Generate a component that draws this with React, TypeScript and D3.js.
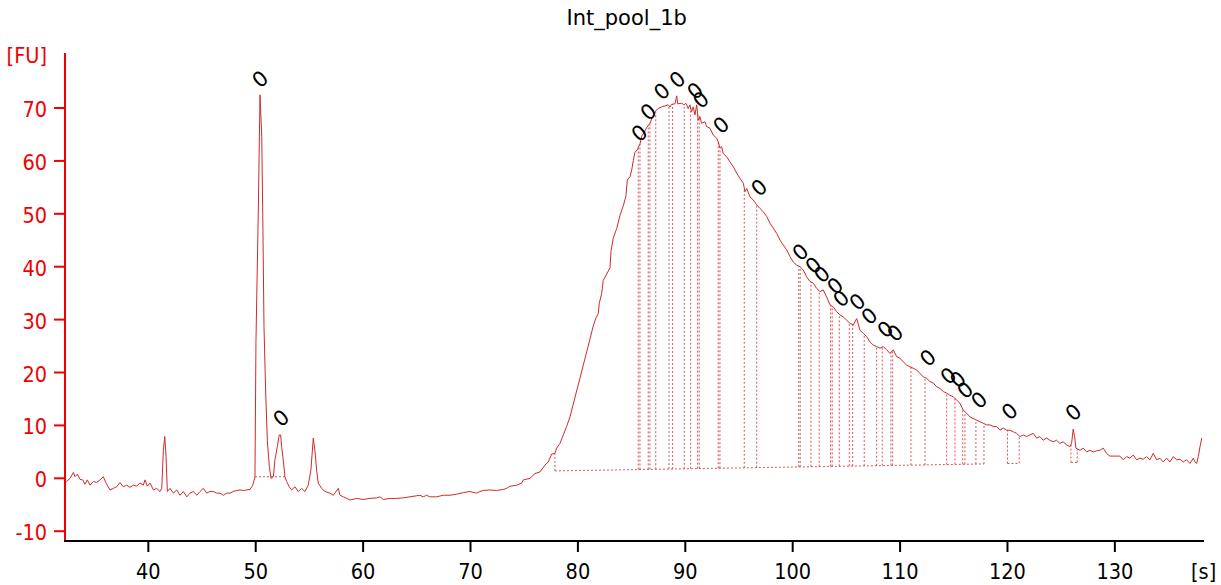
import React from 'react';
import * as d3 from 'd3';

const TITLE = 'Int_pool_1b';
const xTicks = [40, 50, 60, 70, 80, 90, 100, 110, 120, 130];
const yTicks = [-10, 0, 10, 20, 30, 40, 50, 60, 70];
const xDomain = [32.24, 138.3];
const yDomain = [-11.85, 80.4];

// electropherogram trace: [time s, FU]
const trace: [number, number][] = [
  [32.24,-0.3],[32.40,-0.6],[32.71,0.0],[33.02,1.1],[33.17,0.3],[33.39,0.8],[33.64,-0.2],[33.89,-0.3],[34.10,-1.1],[34.32,-0.3],[34.57,-1.3],[34.88,-0.6],[35.19,-0.8],[35.50,-0.3],[35.81,0.3],[36.06,-0.9],[36.43,-2.2],[36.74,-1.9],[37.05,-1.6],[37.36,-0.8],[37.67,-1.6],[37.98,-1.3],[38.29,-1.7],[38.60,-1.3],[38.91,-1.5],[39.23,-0.9],[39.53,-1.3],[39.69,-0.3],[39.91,-1.5],[40.16,-0.9],[40.47,-2.2],[40.78,-1.9],[41.09,-2.5],[41.25,-1.9],[41.40,5.3],[41.53,7.9],[41.65,4.1],[41.77,-2.5],[42.02,-1.9],[42.33,-2.8],[42.65,-2.2],[42.95,-3.2],[43.26,-2.5],[43.58,-3.5],[43.88,-2.8],[44.19,-2.5],[44.51,-3.2],[44.81,-2.5],[45.12,-1.9],[45.44,-2.8],[45.74,-2.5],[46.05,-2.5],[46.36,-2.8],[46.67,-2.8],[46.98,-3.2],[47.30,-2.8],[47.60,-2.8],[47.91,-2.5],[48.23,-2.3],[48.54,-2.2],[48.85,-2.3],[49.16,-2.2],[49.47,-2.1],[49.72,-1.3],
  [49.93,0.3],[50.02,25.6],[50.24,50.7],[50.40,72.5],[50.56,64.6],[50.65,50.7],[50.77,28.7],[50.93,16.1],[51.08,7.2],[51.27,2.2],[51.42,0.0],[51.64,0.3],[51.79,3.5],[52.01,6.0],[52.19,8.2],[52.32,8.2],[52.41,6.0],[52.56,3.5],[52.72,0.3],[52.88,-0.6],[53.12,-1.6],[53.34,-2.2],[53.65,-1.6],[53.96,-2.5],[54.27,-1.9],[54.58,-2.5],[54.89,-1.3],[55.14,1.6],[55.36,7.6],[55.51,5.3],[55.67,1.6],[55.82,-0.9],[56.13,-1.9],[56.45,-2.5],[56.91,-2.8],[57.22,-3.2],[57.69,-1.9],
  [57.85,-3.2],[58.16,-3.5],[58.47,-3.8],[58.78,-4.1],[59.40,-3.8],[60.02,-4.0],[60.64,-3.8],[61.26,-3.7],[61.57,-3.5],[61.88,-4.0],[62.50,-3.8],[63.12,-3.8],[63.74,-3.7],[64.36,-3.5],[64.98,-3.3],[65.29,-3.2],[65.60,-3.5],[65.91,-3.2],[66.22,-3.5],[66.84,-3.5],[67.46,-3.2],[68.09,-3.2],[68.71,-3.0],[69.33,-2.7],[69.95,-2.5],[70.57,-2.8],[70.88,-2.5],[71.19,-2.3],[71.81,-2.2],[72.43,-2.3],[73.05,-2.1],[73.36,-1.9],[73.67,-1.5],[74.30,-1.3],[74.76,-0.9],[74.92,-0.3],
  [75.54,0.0],[76.00,0.9],[76.47,1.2],[76.93,2.5],[77.24,3.1],[77.56,4.6],[77.86,4.7],[78.02,5.7],[78.33,6.6],[78.64,8.2],[78.95,9.8],
  [79.26,11.6],[79.57,14.0],[79.88,16.5],[80.19,18.9],[80.50,21.4],[80.82,23.9],[81.12,26.3],[81.43,28.8],[81.68,30.3],[81.90,31.2],[81.99,33.1],[82.21,34.9],[82.36,37.4],[82.68,38.6],[82.99,39.8],[83.08,42.9],[83.29,45.4],[83.61,47.2],[83.92,49.7],[84.22,51.5],[84.47,53.3],[84.60,56.4],[84.85,57.0],[85.01,58.3],[85.16,60.1],[85.31,61.6],[85.53,62.1],[85.78,63.2],[85.94,64.7],[86.15,65.3],[86.40,66.3],
  [86.71,67.1],[86.96,68.4],[87.17,69.3],[87.48,69.9],[87.80,70.2],[88.10,70.4],[88.41,70.6],[88.57,70.2],[88.73,70.7],[89.04,70.8],[89.20,72.3],[89.29,70.8],[89.66,70.9],[89.90,70.6],[90.06,70.9],[90.27,69.9],[90.43,70.6],[90.59,69.3],[90.74,70.2],[90.90,68.7],[91.06,70.6],[91.21,67.7],[91.36,68.4],[91.52,67.1],[91.83,67.4],[91.99,66.5],[92.29,66.2],[92.60,64.9],[92.92,64.3],[93.07,63.6],[93.23,62.4],[93.38,62.7],[93.53,61.4],[93.85,60.8],[94.16,59.8],[94.47,58.9],[94.78,57.7],[95.09,56.7],[95.40,55.8],[95.56,54.2],[95.72,54.8],[96.02,53.2],[96.33,52.6],[96.65,51.7],[96.96,51.0],[97.26,50.4],[97.58,49.5],[97.89,48.2],[98.19,47.3],[98.51,46.3],[98.82,45.0],[99.12,44.1],[99.44,43.2],[99.75,41.9],[100.05,40.9],[100.37,40.3],[100.68,40.0],[100.98,39.4],[101.30,38.1],
  [101.61,37.2],[101.92,36.9],[102.23,35.9],[102.54,35.3],[102.85,35.6],[103.16,34.3],[103.47,32.8],[103.78,32.4],[104.09,31.5],[104.40,30.9],[104.71,30.5],[105.02,29.9],[105.33,29.3],[105.64,29.0],[105.96,30.2],[106.26,28.0],[106.57,27.4],[106.89,26.8],[107.19,25.8],[107.50,25.2],[107.82,24.9],[108.13,24.6],[108.43,24.9],[108.75,24.3],[109.06,23.6],[109.37,24.3],[109.68,23.0],[109.99,22.7],[110.30,22.0],[110.61,21.4],[110.92,21.1],[111.23,20.8],[111.54,20.5],[111.85,19.8],[112.16,19.2],[112.48,18.9],[112.78,18.3],[113.09,18.0],[113.41,17.3],[113.71,17.0],[114.02,16.4],[114.34,16.1],[114.64,15.7],[114.95,15.4],[115.27,14.8],[115.57,14.2],[115.88,12.9],[116.20,12.3],[116.51,11.6],[116.81,11.3],[117.13,11.0],[117.44,10.7],[117.75,10.4],[118.06,10.1],[118.37,10.1],[118.68,9.8],[118.99,9.8],[119.30,9.1],[119.61,9.5],[119.92,9.1],[120.23,9.1],[120.54,8.8],[120.85,8.5],[121.16,7.9],[121.47,8.2],[121.78,7.9],[122.09,8.2],
  [122.40,8.5],[122.71,7.6],[123.02,7.9],[123.33,7.2],[123.64,7.6],[123.95,7.2],[124.26,6.9],[124.57,7.2],[124.88,6.6],[125.19,6.9],[125.51,6.3],[125.82,6.0],[125.97,6.6],[126.12,9.3],[126.25,7.9],[126.37,5.7],[126.75,5.3],[127.06,5.7],[127.37,5.0],[127.68,5.3],[127.99,5.0],[128.30,5.2],[128.61,5.3],[128.92,5.7],[129.23,4.7],[129.54,4.2],[130.00,4.2],[130.47,4.2],[130.78,3.5],[131.09,4.1],[131.40,3.8],[131.71,4.4],[132.03,3.5],[132.33,3.8],[132.64,3.6],[132.96,4.1],[133.27,3.5],[133.57,4.7],[133.89,3.5],[134.20,3.8],[134.50,3.1],[134.82,3.8],[135.13,3.1],[135.44,4.1],[135.75,3.5],[136.06,3.6],[136.37,3.1],[136.68,3.5],[136.99,2.8],[137.30,3.8],[137.46,3.1],[137.62,2.8],[137.77,4.1],[137.93,6.0],[138.09,7.6]
];

// peak labels: [time s, FU at label]
const peakLabels: [number, number][] = [
  [50.40,75.5],[52.35,11.4],[85.71,65.3],[86.55,69.3],[87.80,73.2],[89.25,75.4],[90.90,73.3],[91.43,71.6],[93.32,66.8],[96.86,55.0],[100.71,42.8],[101.91,40.3],[102.70,38.6],[103.93,36.4],[104.49,34.0],[106.01,33.4],[107.13,30.7],[108.62,28.2],[109.52,27.5],[112.57,22.8],[114.49,19.4],[115.36,18.7],[116.04,16.7],[117.34,14.8],[120.18,12.7],[126.12,12.5]
];
const peakLabelText = '0';

// peak boundaries (s)
const peakBounds = [77.86, 85.62, 85.78, 86.55, 86.71, 87.25, 88.48, 88.82, 89.90, 90.50, 91.15, 91.30, 93.07, 93.23, 95.49, 96.65, 100.57, 100.70, 101.70, 102.47, 103.53, 103.68, 104.34, 105.27, 105.58, 106.66, 107.82, 108.34, 109.15, 109.31, 111.01, 112.32, 114.34, 115.11, 115.83, 116.04, 117.06, 117.81, 120.00, 121.09, 125.91, 126.50];
const baselineT = [77.86, 126.5];
const baselineFU = [1.4, 3.0];
const baselineSegments: [number, number][] = [[77.86, 117.81], [120.0, 121.09], [125.91, 126.5]];
const markerBaseline = [49.93, 52.72, 0.3];

const FONT = "'DejaVu Sans Condensed', 'DejaVu Sans', sans-serif";
const RED = '#f00000';
const TRACE = '#d02a2a';
const DOT = '#d85555';

export default function App() {
  const W = 1221, H = 585;
  const left = 65, right = 1204, top = 53, bottom = 541;
  const x = d3.scaleLinear().domain(xDomain).range([left, right]);
  const y = d3.scaleLinear().domain(yDomain).range([bottom, top]);
  const line = d3.line<[number, number]>().x(d => x(d[0])).y(d => y(d[1]));
  const base = d3.scaleLinear().domain(baselineT).range(baselineFU);
  const bis = d3.bisector((d: [number, number]) => d[0]).left;
  const traceAt = (t: number) => {
    const i = bis(trace, t);
    if (i <= 0) return trace[0][1];
    if (i >= trace.length) return trace[trace.length - 1][1];
    const a = trace[i - 1], b = trace[i];
    return a[1] + (b[1] - a[1]) * (t - a[0]) / (b[0] - a[0]);
  };

  return (
    <svg width={W} height={H} style={{ position: 'absolute', left: 0, top: 0, background: '#fff' }}>
      <rect x={0} y={0} width={W} height={H} fill="#fff" />
      <text x={626.7} y={25} textAnchor="middle" fontFamily="'DejaVu Sans', sans-serif" fontSize={21} fill="#000">{TITLE}</text>

      {/* dotted peak boundaries */}
      <g stroke={DOT} strokeWidth={1} strokeDasharray="2 2" fill="none">
        {peakBounds.map((t, i) => (
          <line key={'b' + i} x1={x(t)} x2={x(t)} y1={y(base(t))} y2={y(traceAt(t))} />
        ))}
        {baselineSegments.map((s, i) => (
          <line key={'s' + i} x1={x(s[0])} x2={x(s[1])} y1={y(base(s[0]))} y2={y(base(s[1]))} />
        ))}
        <line x1={x(markerBaseline[0])} x2={x(markerBaseline[1])} y1={y(markerBaseline[2])} y2={y(markerBaseline[2])} />
      </g>

      <path d={line(trace) || ''} fill="none" stroke={TRACE} strokeWidth={1} />

      {/* peak labels */}
      {peakLabels.map((p, i) => (
        <text key={'l' + i} transform={`translate(${x(p[0])},${y(p[1])}) rotate(-40)`} textAnchor="middle" dy="0.36em"
          fontFamily="'DejaVu Sans', sans-serif" fontSize={21} fill="#000">{peakLabelText}</text>
      ))}

      {/* y axis */}
      <line x1={left} x2={left} y1={top} y2={bottom} stroke={RED} strokeWidth={2} />
      {yTicks.map(v => (
        <g key={'y' + v}>
          <line x1={left - 11} x2={left} y1={y(v)} y2={y(v)} stroke={RED} strokeWidth={2} />
          <text x={47} y={y(v) + 9} textAnchor="end" fontFamily={FONT} fontSize={21.5} fill={RED}>{v}</text>
        </g>
      ))}
      <text x={47} y={63} textAnchor="end" fontFamily={FONT} fontSize={21.5} fill={RED}>[FU]</text>

      {/* x axis */}
      <line x1={left - 1} x2={right} y1={bottom} y2={bottom} stroke="#000" strokeWidth={2} />
      {xTicks.map(v => (
        <g key={'x' + v}>
          <line x1={x(v)} x2={x(v)} y1={bottom} y2={bottom + 11} stroke="#000" strokeWidth={2} />
          <text x={x(v)} y={578.5} textAnchor="middle" fontFamily={FONT} fontSize={21.5} fill="#000">{v}</text>
        </g>
      ))}
      <text x={1191} y={578.5} textAnchor="start" fontFamily={FONT} fontSize={21.5} fill="#000">[s]</text>
    </svg>
  );
}
